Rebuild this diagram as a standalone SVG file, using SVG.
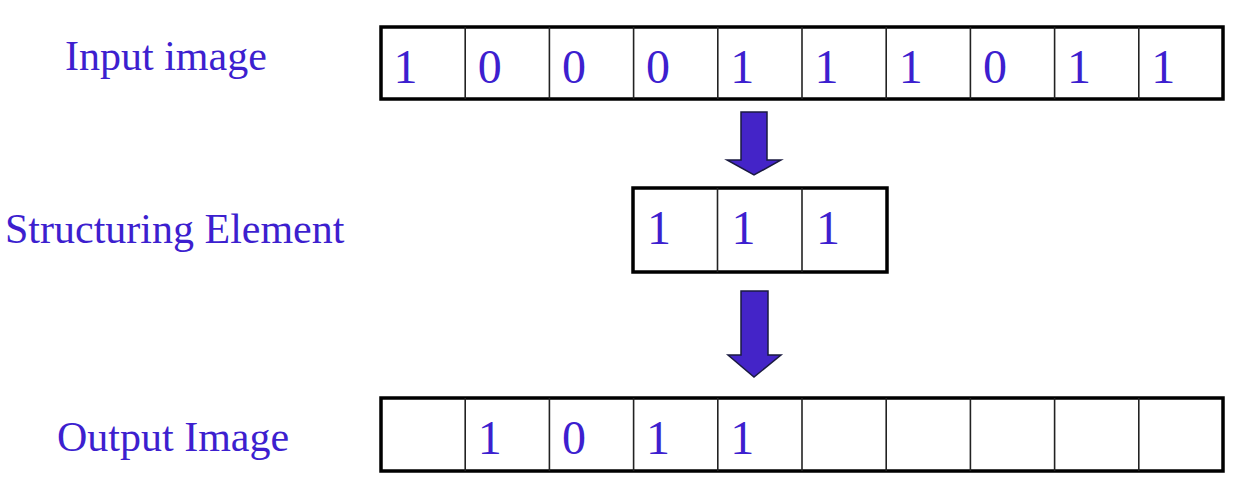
<svg xmlns="http://www.w3.org/2000/svg" width="1240" height="485" viewBox="0 0 1240 485">
<style>
.lbl{font-family:"Liberation Serif","Times New Roman",serif;font-size:42px;fill:#3d1fcf}
.dig{font-family:"Liberation Serif","Times New Roman",serif;font-size:48px;fill:#3d1fcf}
.outer{fill:#fff;stroke:#000;stroke-width:3.5}
.div{stroke:#222;stroke-width:1.6}
.arrow{fill:#4424c8;stroke:#1a1a40;stroke-width:1.5;stroke-linejoin:miter}
</style>
<rect width="1240" height="485" fill="#fff"/>
<g id="label-input"><text class="lbl" x="65" y="70">Input image</text></g>
<g id="label-se"><text class="lbl" x="5" y="243">Structuring Element</text></g>
<g id="label-output"><text class="lbl" x="57" y="451">Output Image</text></g>
<g id="input-image">
<rect class="outer" x="381" y="27" width="842" height="72"/>
<g class="div">
<line x1="465.2" y1="27" x2="465.2" y2="99"/><line x1="549.4" y1="27" x2="549.4" y2="99"/><line x1="633.6" y1="27" x2="633.6" y2="99"/><line x1="717.8" y1="27" x2="717.8" y2="99"/><line x1="802" y1="27" x2="802" y2="99"/><line x1="886.2" y1="27" x2="886.2" y2="99"/><line x1="970.4" y1="27" x2="970.4" y2="99"/><line x1="1054.6" y1="27" x2="1054.6" y2="99"/><line x1="1138.8" y1="27" x2="1138.8" y2="99"/>
</g>
<text class="dig" x="393.5" y="83">1</text><text class="dig" x="477.7" y="83">0</text><text class="dig" x="561.9" y="83">0</text><text class="dig" x="646.1" y="83">0</text><text class="dig" x="730.3" y="83">1</text><text class="dig" x="814.5" y="83">1</text><text class="dig" x="898.7" y="83">1</text><text class="dig" x="982.9" y="83">0</text><text class="dig" x="1067.1" y="83">1</text><text class="dig" x="1151.3" y="83">1</text>
</g>
<g id="structuring-element">
<rect class="outer" x="633" y="188" width="254" height="84"/>
<g class="div"><line x1="717.5" y1="188" x2="717.5" y2="272"/><line x1="802" y1="188" x2="802" y2="272"/></g>
<text class="dig" x="647" y="244">1</text><text class="dig" x="731.5" y="244">1</text><text class="dig" x="816" y="244">1</text>
</g>
<g id="output-image">
<rect class="outer" x="381" y="398" width="842" height="73"/>
<g class="div">
<line x1="465.2" y1="398" x2="465.2" y2="471"/><line x1="549.4" y1="398" x2="549.4" y2="471"/><line x1="633.6" y1="398" x2="633.6" y2="471"/><line x1="717.8" y1="398" x2="717.8" y2="471"/><line x1="802" y1="398" x2="802" y2="471"/><line x1="886.2" y1="398" x2="886.2" y2="471"/><line x1="970.4" y1="398" x2="970.4" y2="471"/><line x1="1054.6" y1="398" x2="1054.6" y2="471"/><line x1="1138.8" y1="398" x2="1138.8" y2="471"/>
</g>
<text class="dig" x="477.7" y="454">1</text><text class="dig" x="561.9" y="454">0</text><text class="dig" x="646.1" y="454">1</text><text class="dig" x="730.3" y="454">1</text>
</g>
<g id="connectors">
<polygon class="arrow" points="741,112 767,112 767,160 781,160 754,175 727,160 741,160"/>
<polygon class="arrow" points="741,291 768,291 768,355 781,355 754,377 728,355 741,355"/>
</g>
</svg>
